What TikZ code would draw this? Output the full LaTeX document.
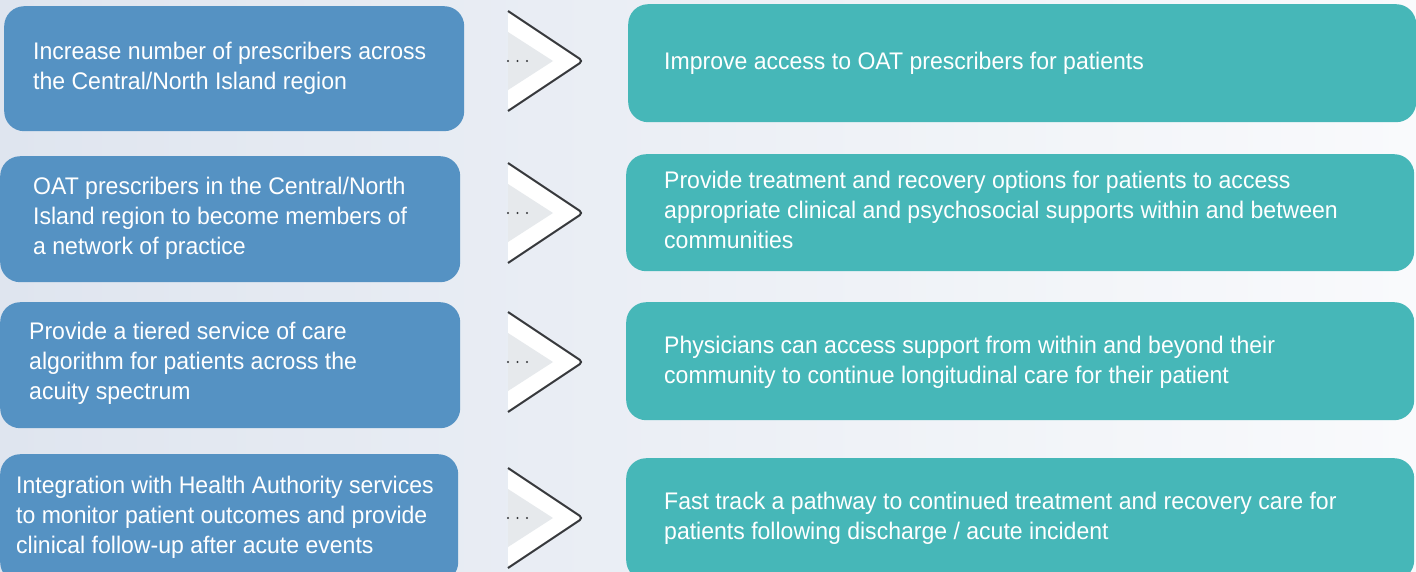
\documentclass[tikz,border=0pt]{standalone}
\usepackage{fontspec}
\setmainfont{Liberation Sans}[FakeStretch=0.96]
\usepackage{tikz}
\usetikzlibrary{calc}
\definecolor{causeblue}{HTML}{5592C3}
\definecolor{effectteal}{HTML}{46B7B8}
\definecolor{bgleft}{HTML}{DFE5EF}
\definecolor{bgright}{HTML}{F9FAFC}
\definecolor{chevgray}{HTML}{E6E9EC}
\definecolor{chevline}{HTML}{37393C}

\begin{document}
\begin{tikzpicture}[x=1pt,y=-1pt,
    panel/.style={rounded corners=20pt,anchor=north west,inner sep=0pt},
    causebox/.style={panel,fill=causeblue},
    effectbox/.style={panel,fill=effectteal,minimum width=788pt},
    boxtext/.style={anchor=west,align=left,text=white,inner sep=0pt,
        font=\fontsize{24}{30}\selectfont},
    chevron/.pic={
        \fill[white,rounded corners=4pt](0,-50)--(75,0)--(0,50)--cycle;
        \fill[chevgray](0,-29)--(45,0)--(0,29)--cycle;
        \draw[chevline,line width=2pt,rounded corners=4pt](0,-50)--(75,0)--(0,50);
        \foreach \dx in {0,9.5,19}
            \fill[chevline](\dx,0)circle(1.2pt);
    }]
    \useasboundingbox (0,0) rectangle (1416,571);
    \clip (0,0) rectangle (1416,571);
    \shade[left color=bgleft,right color=bgright](0,0)rectangle(1416,571);

    % left column
    \node[causebox,minimum width=460pt,minimum height=125pt](cause1) at (4,6) {};
    \node[causebox,minimum width=460pt,minimum height=126pt](cause2) at (0,156) {};
    \node[causebox,minimum width=460pt,minimum height=126pt](cause3) at (0,302) {};
    \node[causebox,minimum width=458pt,minimum height=128pt](cause4) at (0,454) {};

    \node[boxtext](cause1text) at ($(cause1.west)+(29,0)$)
        {Increase number of prescribers across\\the Central/North Island region};
    \node[boxtext](cause2text) at ($(cause2.west)+(33,-1)$)
        {OAT prescribers in the Central/North\\Island region to become members of\\a network of practice};
    \node[boxtext](cause3text) at ($(cause3.west)+(29,-2)$)
        {Provide a tiered service of care\\algorithm for patients across the\\acuity spectrum};
    \node[boxtext](cause4text) at ($(cause4.west)+(16,-1)$)
        {Integration with Health Authority services\\to monitor patient outcomes and provide\\clinical follow-up after acute events};

    % right column
    \node[effectbox,minimum height=118pt](effect1) at (628,4) {};
    \node[effectbox,minimum height=117pt](effect2) at (626,154) {};
    \node[effectbox,minimum height=118pt](effect3) at (626,302) {};
    \node[effectbox,minimum height=122pt](effect4) at (626,458) {};

    \node[boxtext](effect1text) at ($(effect1.west)+(36,0)$)
        {Improve access to OAT prescribers for patients};
    \node[boxtext](effect2text) at ($(effect2.west)+(38,-3)$)
        {Provide treatment and recovery options for patients to access\\appropriate clinical and psychosocial supports within and between\\communities};
    \node[boxtext](effect3text) at ($(effect3.west)+(38,1)$)
        {Physicians can access support from within and beyond their\\community to continue longitudinal care for their patient};
    \node[boxtext](effect4text) at ($(effect4.west)+(38,-1)$)
        {Fast track a pathway to continued treatment and recovery care for\\patients following discharge / acute incident};

    % chevrons
    \coordinate (arrow1) at (508,61);
    \coordinate (arrow2) at (508,213);
    \coordinate (arrow3) at (508,362);
    \coordinate (arrow4) at (508,518);
    \foreach \i in {1,...,4}
        \pic at (arrow\i) {chevron};
\end{tikzpicture}
\end{document}
